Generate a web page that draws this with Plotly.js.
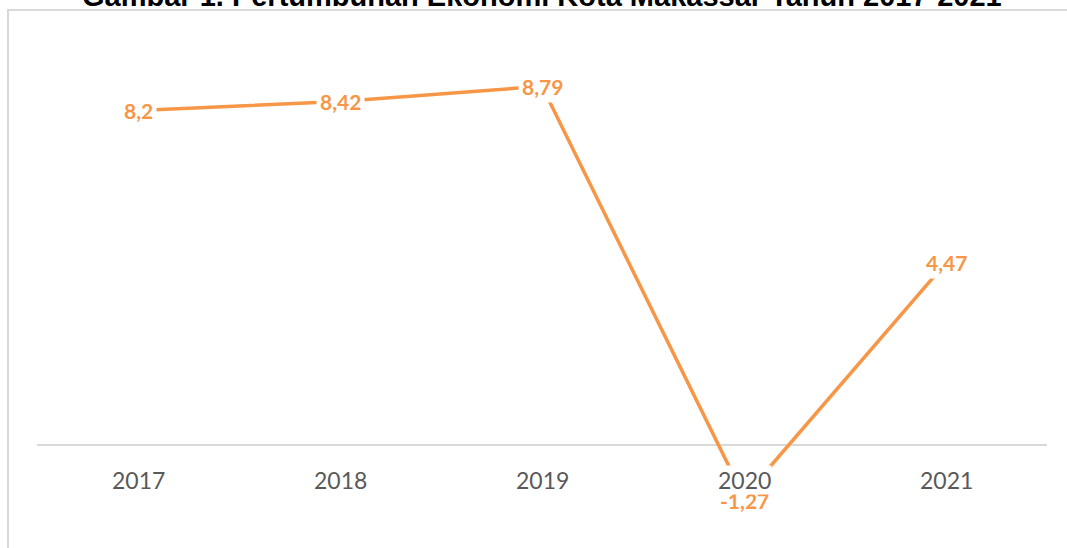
<!DOCTYPE html>
<html>
<head>
<meta charset="utf-8">
<script src="https://cdn.plot.ly/plotly-3.0.1.min.js"></script>
<style>html,body{margin:0;padding:0;background:#fff;}#chart{width:1067px;height:548px;}</style>
</head>
<body>
<div id="chart"></div>
<script>
var titleText = "Gambar 1. Pertumbuhan Ekonomi Kota Makassar Tahun 2017-2021";
var years = ["2017", "2018", "2019", "2020", "2021"];
var growth = [8.2, 8.42, 8.79, -1.27, 4.47];
var growthLabels = ["8,2", "8,42", "8,79", "-1,27", "4,47"];

var orange = "#F79646";
var W = 1067, H = 548;
var m = {l: 37, r: 20, t: 30, b: 18};
var pw = W - m.l - m.r, ph = H - m.t - m.b;
function px(x) { return (x - m.l) / pw; }
function py(y) { return (H - m.b - y) / ph; }

var annotations = [];
years.forEach(function (yr, i) {
  annotations.push({
    x: i, y: growth[i], xref: "x", yref: "y", text: "<b>" + growthLabels[i] + "</b>",
    showarrow: false, bgcolor: "#ffffff", borderpad: 3,
    yshift: growth[i] < 0 ? -4 : 0,
    font: {family: "Lato, 'Open Sans', sans-serif", size: 21, color: orange}
  });
});
years.forEach(function (yr, i) {
  annotations.push({
    x: i, y: 0, xref: "x", yref: "y", text: yr, showarrow: false,
    yshift: -35, bgcolor: "#ffffff", borderpad: 0,
    font: {family: "Lato, 'Open Sans', sans-serif", size: 23, color: "#595959"}
  });
});
annotations.push({
  x: px(541.5), y: py(14), xref: "paper", yref: "paper", xanchor: "center", yanchor: "bottom",
  text: "<b>" + titleText + "</b>", showarrow: false,
  font: {family: "'Liberation Sans', Arial, sans-serif", size: 29, color: "#000000"}
});

var data = [{
  type: "scatter", mode: "lines", x: years, y: growth,
  line: {color: orange, width: 3.5}, hoverinfo: "skip"
}];

var layout = {
  width: W, height: H, margin: m,
  paper_bgcolor: "#ffffff", plot_bgcolor: "#ffffff",
  showlegend: false,
  xaxis: {type: "category", range: [-0.5, 4.5], showticklabels: false, showgrid: false,
          zeroline: false, showline: false, ticks: "", fixedrange: true},
  yaxis: {range: [-2.083, 10.17], showticklabels: false, showgrid: false,
          zeroline: true, zerolinecolor: "#d9d9d9", zerolinewidth: 2, showline: false, ticks: "", fixedrange: true},
  shapes: [
    {type: "line", xref: "paper", yref: "paper", x0: px(8), x1: px(8), y0: py(10), y1: py(560),
     line: {color: "#d9d9d9", width: 2}, layer: "below"},
    {type: "line", xref: "paper", yref: "paper", x0: px(7), x1: px(1080), y0: py(10), y1: py(10),
     line: {color: "#d9d9d9", width: 2}, layer: "below"}
  ],
  annotations: annotations
};

Plotly.newPlot("chart", data, layout, {displayModeBar: false, staticPlot: true});
</script>
</body>
</html>
